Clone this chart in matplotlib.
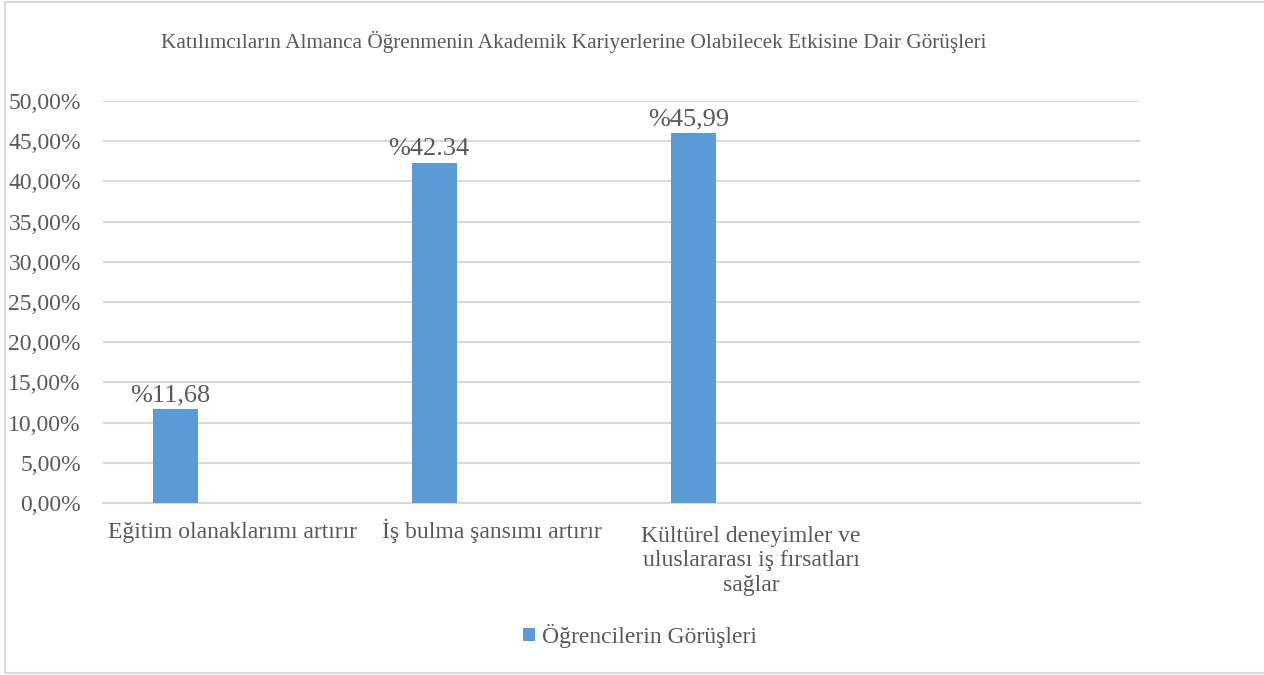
import matplotlib.pyplot as plt
from matplotlib.patches import Rectangle

# data
categories = ["Eğitim olanaklarımı artırır",
              "İş bulma şansımı artırır",
              "Kültürel deneyimler ve\nuluslararası iş fırsatları\nsağlar"]
values = [11.68, 42.34, 45.99]
value_labels = ["%11,68", "%42.34", "%45,99"]
yticks = [0, 5, 10, 15, 20, 25, 30, 35, 40, 45, 50]
ytick_labels = ["0,00%", "5,00%", "10,00%", "15,00%", "20,00%", "25,00%",
                "30,00%", "35,00%", "40,00%", "45,00%", "50,00%"]
series_name = "Öğrencilerin Görüşleri"
title = "Katılımcıların Almanca Öğrenmenin Akademik Kariyerlerine Olabilecek Etkisine Dair Görüşleri"

plt.rcParams['font.family'] = ['Liberation Serif', 'DejaVu Serif']
txt = '#595959'
blue = '#5B9BD5'
grid = '#D9D9D9'

fig = plt.figure(figsize=(12.64, 6.75), dpi=100)
ax = fig.add_axes([0.0815, 0.2548, 0.8204, 0.5956])

# outer frame like the excel chart area
fig.patches.append(Rectangle((4.5 / 1264, 2 / 675), 1.0, 671 / 675, transform=fig.transFigure,
                             fill=False, edgecolor=grid, linewidth=1.5))

pos = list(range(len(values)))
off = -0.222
bars = ax.bar([p + off for p in pos], values, width=0.174, color=blue,
              label=series_name, zorder=3)

for b, lab in zip(bars, value_labels):
    ax.text(b.get_x() + b.get_width() / 2 - 0.02, b.get_height() + 0.3, lab,
            ha='center', va='bottom', fontsize=19, color=txt)

ax.set_xlim(-0.5, 3.5)
ax.set_ylim(0, 50)
ax.set_yticks(yticks)
ax.set_yticklabels(ytick_labels, fontsize=17, color=txt)
ax.set_xticks(pos)
ax.set_xticklabels([])
ax.tick_params(length=0)
ax.tick_params(axis='y', pad=16)

# category labels: first-line baseline 35px under the axis, 26.5px line step
for p, cat in zip(pos, categories):
    n = cat.count('\n')
    ax.annotate(cat, xy=(p, 0), xycoords=('data', 'axes fraction'),
                xytext=(0, -(35 + n * 26.5) * 0.72), textcoords='offset points',
                ha='center', va='baseline', multialignment='center',
                fontsize=17, color=txt, linespacing=1.23)

ax.grid(axis='y', color=grid, linewidth=1.5, zorder=0)
for s in ['top', 'right', 'left']:
    ax.spines[s].set_visible(False)
ax.spines['bottom'].set_color(grid)
ax.spines['bottom'].set_linewidth(1.5)

fig.text(574 / 1264, 1 - 42 / 675, title, ha='center', va='center', fontsize=15.3, color=txt)

fig.legend(handles=[bars], labels=[series_name], loc='center',
           bbox_to_anchor=(640 / 1264, 1 - 636 / 675), frameon=False,
           fontsize=17, labelcolor=txt, handlelength=0.5, handleheight=0.5,
           handletextpad=0.3)

fig.savefig('out.png', dpi=100)
